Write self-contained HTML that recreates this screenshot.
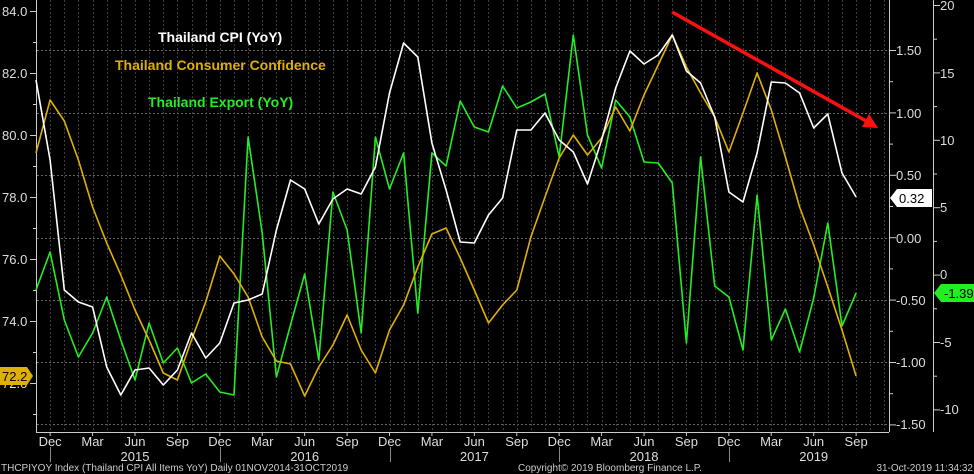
<!DOCTYPE html>
<html><head><meta charset="utf-8"><style>
html,body{margin:0;padding:0;background:#000;}
svg{display:block;}
text{font-family:"Liberation Sans Narrow","Liberation Sans",sans-serif;}
</style></head><body>
<svg id="s" width="974" height="474" viewBox="0 0 974 474" xmlns="http://www.w3.org/2000/svg">
<rect width="974" height="474" fill="#000"/>
<g id="grid"></g>
<g id="axes" stroke="#ccc" stroke-width="1" fill="none">
<line x1="36.5" y1="0" x2="36.5" y2="432"/>
<line x1="889.5" y1="0" x2="889.5" y2="432"/>
<line x1="933.5" y1="0" x2="933.5" y2="432"/>
<line x1="36" y1="432.5" x2="889" y2="432.5"/>
</g>
<g id="ticks"></g>
<g font-size="13" fill="#ddd">
<text x="2" y="16">84.0</text><text x="2" y="78">82.0</text><text x="2" y="140">80.0</text>
<text x="2" y="202">78.0</text><text x="2" y="264">76.0</text><text x="2" y="326">74.0</text><text x="2" y="388">72.0</text>
<text x="896" y="55">1.50</text><text x="896" y="118">1.00</text><text x="896" y="180">0.50</text>
<text x="896" y="243">0.00</text><text x="896" y="305">-0.50</text><text x="896" y="367">-1.00</text><text x="896" y="429">-1.50</text>
<text x="940" y="10">20</text><text x="940" y="78">15</text><text x="940" y="145">10</text><text x="940" y="212">5</text>
<text x="940" y="279">0</text><text x="940" y="347">-5</text><text x="940" y="414">-10</text>
</g>
<g id="xl" font-size="13" fill="#ddd" text-anchor="middle"></g>
<g font-size="14" font-weight="bold" font-family="Liberation Sans, sans-serif">
<text x="158" y="42" fill="#fff" style="font-family:'Liberation Sans',sans-serif">Thailand CPI (YoY)</text>
<text x="115" y="70" fill="#e0b000" style="font-family:'Liberation Sans',sans-serif">Thailand Consumer Confidence</text>
<text x="148" y="107" fill="#22ee22" style="font-family:'Liberation Sans',sans-serif">Thailand Export (YoY)</text>
</g>
<g id="lines" fill="none" stroke-width="1.6" stroke-linejoin="round"></g>
<line x1="672" y1="12" x2="868" y2="122" stroke="#ff1010" stroke-width="3.5"/>
<polygon points="878,128 862,127 869,114" fill="#ff1010"/>
<polygon points="890,198 897,189 932,189 932,207 897,207" fill="#fff"/>
<text x="899" y="203" font-size="13" fill="#000">0.32</text>
<polygon points="934,293 941,284 974,284 974,302 941,302" fill="#22ee22"/>
<text x="944" y="298" font-size="13" fill="#000">-1.39</text>
<polygon points="0,367 27,367 33,376 27,385 0,385" fill="#e0b000"/>
<text x="2" y="381" font-size="13" fill="#000">72.2</text>
<g font-size="10" fill="#ccc">
<text x="1" y="471">THCPIYOY Index (Thailand CPI All Items YoY)  Daily 01NOV2014-31OCT2019</text>
<text x="518" y="471">Copyright© 2019 Bloomberg Finance L.P.</text>
<text x="973" y="471" text-anchor="end">31-Oct-2019 11:34:32</text>
</g>
</svg>
<script>
var NS="http://www.w3.org/2000/svg";
function el(p,t,a){var e=document.createElementNS(NS,t);for(var k in a)e.setAttribute(k,a[k]);document.getElementById(p).appendChild(e);return e;}
function X(i){return 36+14.14*i;}
// grid
[50,113,175,238,300,362,424].forEach(function(y){el("grid","line",{x1:37,x2:889,y1:y+.5,y2:y+.5,stroke:"#666","stroke-dasharray":"2,2"});});
for(var i=1;i<61;i++){var x=Math.round(X(i))+.5;if(x<889)el("grid","line",{x1:x,x2:x,y1:0,y2:432,stroke:"#3c3c3c","stroke-dasharray":"2,2"});}
// ticks
for(var v=0;v<14;v++){var y=11+v*31;el("ticks","line",{x1:36,x2:v%2?33:30,y1:y+.5,y2:y+.5,stroke:"#ccc"});}
for(var v=0;v<13;v++){var y=50+v*31.2;el("ticks","line",{x1:890,x2:v%2?893:896,y1:y+.5,y2:y+.5,stroke:"#ccc"});}
for(var v=0;v<13;v++){var y=5+v*33.7;el("ticks","line",{x1:934,x2:v%2?937:940,y1:y+.5,y2:y+.5,stroke:"#ccc"});}
var m=["Dec","Mar","Jun","Sep"];
for(var q=0;q<20;q++){var i=1+3*q,x=X(i);var t=el("xl","text",{x:x,y:446});t.textContent=m[q%4];
el("ticks","line",{x1:x,x2:x,y1:432,y2:436,stroke:"#ccc"});
if(q%4==0)el("ticks","line",{x1:Math.round(x)+.5,x2:Math.round(x)+.5,y1:447,y2:462,stroke:"#888"});
if(q%4==2){var t2=el("xl","text",{x:x,y:461});t2.textContent=2015+Math.floor(q/4);}}
var W=[80,160,290,302,307,367,395,370,368,385,370,333,358,343,303,300,294,230,180,189,224,199,189,194,167,93,43,57,143,190,242,243,215,198,130,130,113,140,152,184,140,88,51,64,55,35,71,83,117,192,202,153,82,83,93,128,114,173,197];
var Yc=[153,100,121,160,207,243,275,310,340,373,380,340,302,256,274,297,337,361,364,396,367,345,315,350,373,330,305,267,234,228,258,290,323,305,290,237,197,158,135,155,138,107,131,95,65,35,67,93,117,152,113,73,110,157,207,245,287,330,376];
var G=[290,252,320,357,333,297,340,380,323,363,348,383,374,392,395,137,233,377,325,274,360,192,230,333,137,189,153,313,153,166,101,127,132,86,108,102,94,157,35,135,168,100,117,162,163,183,343,157,286,297,350,195,340,309,352,298,223,326,293];
function pl(a,c){el("lines","polyline",{points:a.map(function(y,i){return X(i).toFixed(1)+","+y;}).join(" "),stroke:c});}
pl(G,"#22ee22");pl(Yc,"#e0b000");pl(W,"#ffffff");
</script>
</body></html>
